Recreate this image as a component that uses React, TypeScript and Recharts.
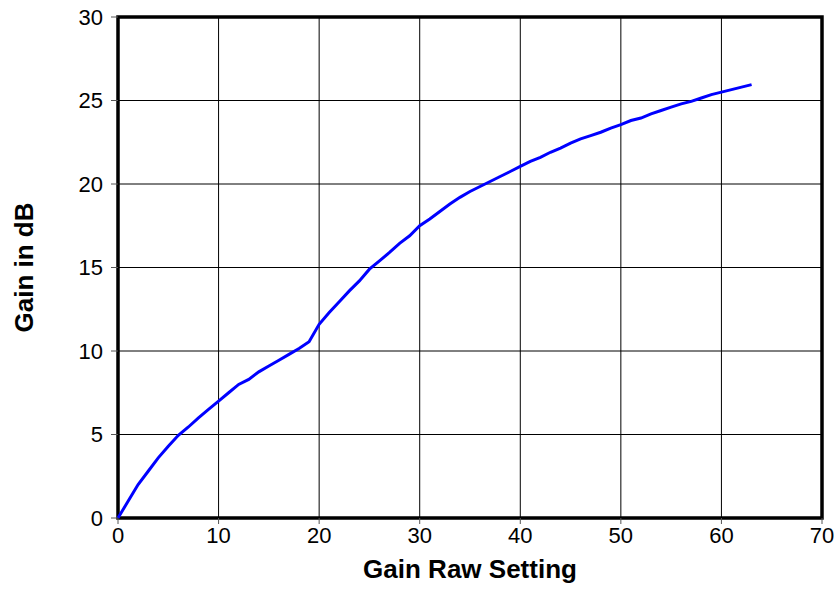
import React from 'react';
import {
  LineChart,
  Line,
  XAxis,
  YAxis,
  CartesianGrid,
  ReferenceArea,
  Label
} from 'recharts';

// Gain raw setting (x) vs. gain in dB (y)
const rawSetting = [
  0, 1, 2, 3, 4, 5, 6, 7, 8, 9, 10, 11, 12, 13, 14, 15, 16, 17, 18, 19, 20,
  21, 22, 23, 24, 25, 26, 27, 28, 29, 30, 31, 32, 33, 34, 35, 36, 37, 38, 39, 40,
  41, 42, 43, 44, 45, 46, 47, 48, 49, 50, 51, 52, 53, 54, 55, 56, 57, 58, 59, 60,
  61, 62, 63
];
const gainDb = [
  0, 1.0, 2.0, 2.8, 3.6, 4.3, 4.95, 5.45, 6.0, 6.5, 7.0, 7.5, 8.0, 8.3, 8.75, 9.1, 9.45, 9.8, 10.15, 10.55, 11.6,
  12.3, 12.95, 13.6, 14.2, 14.9, 15.4, 15.9, 16.45, 16.9, 17.5, 17.9, 18.35, 18.8, 19.2, 19.55, 19.85, 20.15, 20.45, 20.75, 21.05,
  21.35, 21.6, 21.9, 22.15, 22.45, 22.7, 22.9, 23.1, 23.35, 23.55, 23.8, 23.95, 24.2, 24.4, 24.6, 24.8, 24.95, 25.15, 25.35, 25.5,
  25.65, 25.8, 25.95
];

const xTicks = [0, 10, 20, 30, 40, 50, 60, 70];
const yTicks = [0, 5, 10, 15, 20, 25, 30];

const data = rawSetting.map((x, i) => ({ raw: x, gain: gainDb[i] }));

const FONT = '"Liberation Sans", Arial, Helvetica, sans-serif';
const tickStyle = { fill: '#000', fontSize: 22, fontFamily: FONT };
const titleStyle = { fill: '#000', fontSize: 26, fontWeight: 'bold', fontFamily: FONT };

export default function App() {
  return (
    <div style={{ position: 'absolute', left: 0, top: 0, fontFamily: FONT }}>
      <LineChart
        width={835}
        height={606}
        data={data}
        margin={{ top: 17, right: 13, bottom: 0, left: 0 }}
      >
        <CartesianGrid stroke="#000" strokeWidth={1} />
        <XAxis
          dataKey="raw"
          type="number"
          domain={[0, 70]}
          ticks={xTicks}
          height={88}
          axisLine={false}
          tickSize={6}
          tickMargin={3}
          tickLine={{ stroke: '#555' }}
          tick={tickStyle}
        >
          <Label value="Gain Raw Setting" position="insideBottom" offset={28} style={titleStyle} />
        </XAxis>
        <YAxis
          type="number"
          domain={[0, 30]}
          ticks={yTicks}
          width={118}
          axisLine={false}
          tickSize={7}
          tickMargin={8}
          tickLine={{ stroke: '#555' }}
          tick={tickStyle}
          label={({ viewBox }: any) => {
            const cx = 33;
            const cy = viewBox.y + viewBox.height / 2;
            return (
              <text
                x={cx}
                y={cy}
                transform={`rotate(-90, ${cx}, ${cy})`}
                textAnchor="middle"
                style={titleStyle}
              >
                Gain in dB
              </text>
            );
          }}
        />
        <ReferenceArea
          x1={0}
          x2={70}
          y1={0}
          y2={30}
          fill="none"
          stroke="#000"
          strokeWidth={3.5}
          ifOverflow="visible"
        />
        <Line
          type="linear"
          dataKey="gain"
          stroke="#0000ff"
          strokeWidth={3}
          dot={false}
          isAnimationActive={false}
        />
      </LineChart>
    </div>
  );
}
